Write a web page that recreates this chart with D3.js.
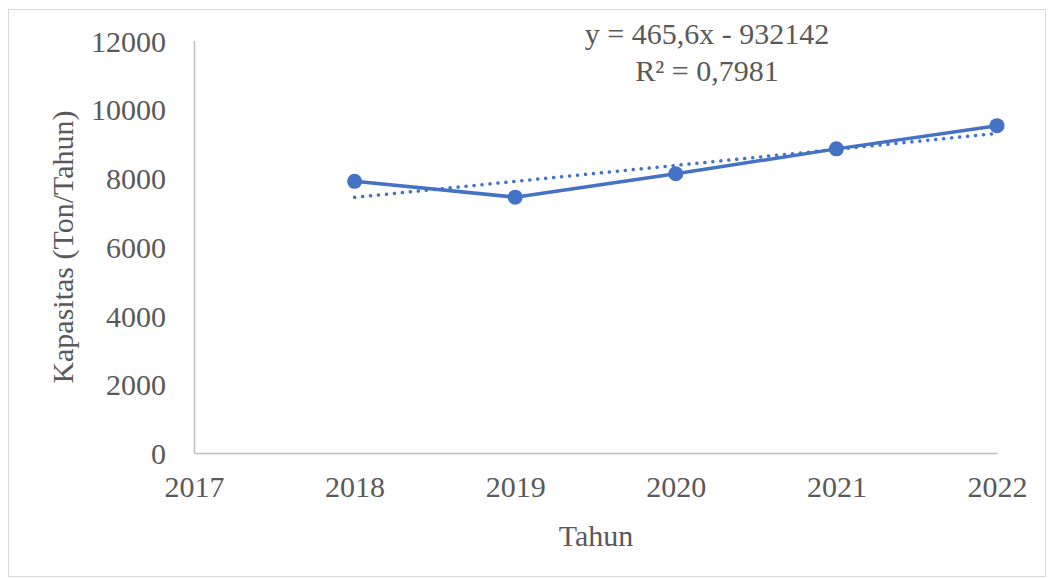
<!DOCTYPE html>
<html>
<head>
 <meta charset="utf-8"/>
 <script src="https://d3js.org/d3.v7.min.js"></script>
 <style>
  body { margin: 0; background: #fff; }
  text { font-family: "Liberation Serif", "Times New Roman", serif; fill: #595959; }
 </style>
</head>
<body>
 <div id="chart"></div>
 <script type="text/javascript">
   // data
   var years = [2018, 2019, 2020, 2021, 2022];
   var kapasitas = [7905, 7445, 8125, 8850, 9525];
   var yTicks = [0, 2000, 4000, 6000, 8000, 10000, 12000];
   var xTicks = [2017, 2018, 2019, 2020, 2021, 2022];
   // linear trend as printed on the chart
   var trendSlope = 465.6;
   var trendIntercept = -932142;
   var trendLabel = ["y = 465,6x - 932142", "R² = 0,7981"];

   var width = 1050, height = 579;
   var plotLeft = 194, plotRight = 997, plotTop = 40.6, plotBottom = 453;
   var blue = "#4472C4";

   var svg = d3.select("#chart").append("svg")
     .attr("width", width)
     .attr("height", height);

   // chart border
   svg.append("rect")
     .attr("x", 8.5).attr("y", 9.5)
     .attr("width", 1037).attr("height", 567)
     .style("fill", "none")
     .style("stroke", "#d9d9d9")
     .style("stroke-width", 1);

   var xScale = d3.scaleLinear().domain([2017, 2022]).range([plotLeft, plotRight]);
   var yScale = d3.scaleLinear().domain([0, 12000]).range([plotBottom, plotTop]);

   // y axis
   var yAxis = d3.axisLeft(yScale).tickValues(yTicks).tickSize(0).tickPadding(28)
     .tickFormat(function(d){ return String(d); });
   var gy = svg.append("g").attr("transform", "translate(" + plotLeft + ",0)").call(yAxis);
   gy.select(".domain").style("stroke", "#bfbfbf").style("stroke-width", 1.5);
   gy.selectAll("text").style("font-size", "30px").style("font-family", null).attr("dy", "0.35em");

   // x axis
   var xAxis = d3.axisBottom(xScale).tickValues(xTicks).tickSize(0).tickPadding(23)
     .tickFormat(function(d){ return String(d); });
   var gx = svg.append("g").attr("transform", "translate(0," + plotBottom + ")").call(xAxis);
   gx.select(".domain").style("stroke", "#bfbfbf").style("stroke-width", 1.5);
   gx.selectAll("text").style("font-size", "30px").style("font-family", null);

   // axis titles
   svg.append("text")
     .attr("x", 596).attr("y", 546)
     .attr("text-anchor", "middle")
     .style("font-size", "30px")
     .text("Tahun");
   svg.append("text")
     .attr("transform", "translate(73,247) rotate(-90)")
     .attr("text-anchor", "middle")
     .style("font-size", "30px")
     .text("Kapasitas (Ton/Tahun)");

   var data = years.map(function(y, i){ return {x: y, y: kapasitas[i]}; });

   // data line
   var line = d3.line().x(function(d){ return xScale(d.x); }).y(function(d){ return yScale(d.y); });
   svg.append("path")
     .datum(data)
     .attr("d", line)
     .style("fill", "none")
     .style("stroke", blue)
     .style("stroke-width", 3.5);

   // trend line (dotted)
   var x0 = years[0], x1 = years[years.length - 1];
   var trend = [x0, x1].map(function(x){ return {x: x, y: trendSlope * x + trendIntercept}; });
   svg.append("path")
     .datum(trend)
     .attr("d", line)
     .style("fill", "none")
     .style("stroke", blue)
     .style("stroke-width", 3.5)
     .style("stroke-linecap", "round")
     .style("stroke-dasharray", "0.1 7.9");

   // markers
   svg.append("g").selectAll("circle")
     .data(data)
     .enter().append("circle")
     .attr("cx", function(d){ return xScale(d.x); })
     .attr("cy", function(d){ return yScale(d.y); })
     .attr("r", 7.5)
     .style("fill", blue);

   // trend equation
   var eq = svg.append("text")
     .attr("text-anchor", "middle")
     .style("font-size", "30px");
   eq.append("tspan").attr("x", 707).attr("y", 44).text(trendLabel[0]);
   eq.append("tspan").attr("x", 707).attr("y", 81).text(trendLabel[1]);
 </script>
</body>
</html>
